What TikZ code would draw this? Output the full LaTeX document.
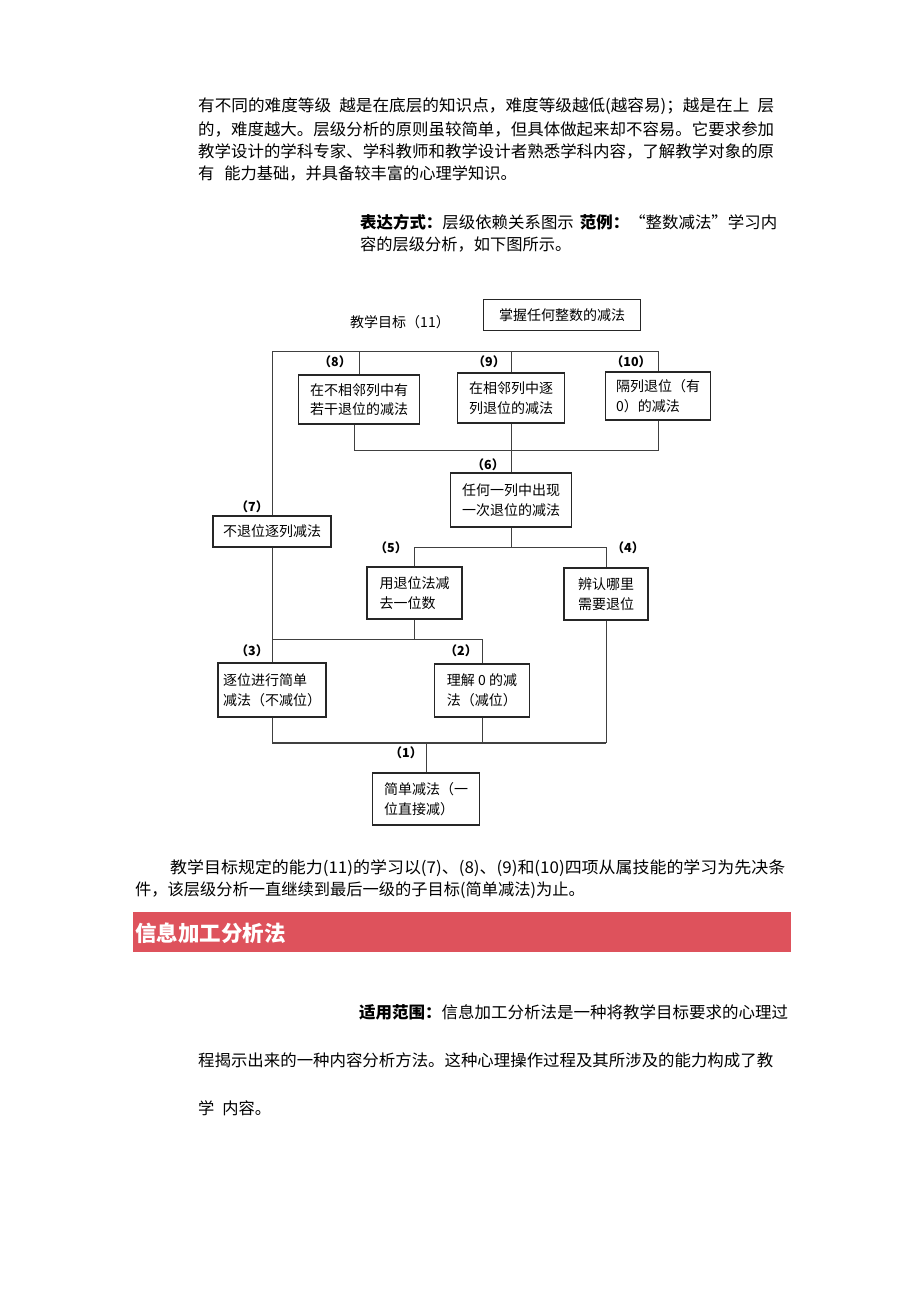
\documentclass[tikz,border=0pt]{standalone}
\usepackage{fontspec}
\usepackage{graphicx}
\setmainfont{Noto Sans CJK SC}
\usetikzlibrary{positioning}
\definecolor{bannerred}{RGB}{222,82,92}
\newcommand{\bodyfont}{\fontsize{16.25}{22}\selectfont}
\newcommand{\boxfont}{\fontsize{14}{19.5}\selectfont}
\newcommand{\numfont}{\fontsize{12.5}{12.5}\selectfont\bfseries}
\newcommand{\bannerfont}{\fontsize{21.5}{24}\selectfont\bfseries}
\newcommand{\jline}[2]{\resizebox{#1}{\height}{#2}}
\tikzset{
  every picture/.style = {
    x = 1pt,
    y = -1pt,
  }
  ,
  task/.style = {
    rectangle,
    draw = black!85,
    line width = 1.3pt,
    inner sep = 0pt,
    align = left,
    font = \boxfont
  }
  , % numbers of the sub-goals
  num/.style = {
    font = \numfont,
    inner sep = 0pt
  }
  , % connecting lines
  wire/.style = {
    draw = black!75,
    line width = 0.8pt
  }
  , % lines of running text
  line-body/.style = {
    anchor = west,
    inner sep = 0pt,
    font = \bodyfont
  }
}
\begin{document}
\begin{tikzpicture}
\useasboundingbox (0,0) rectangle (920,1302);
% text above the chart
\node[line-body] (p1-1) at (198,106) {\jline{576pt}{有不同的难度等级\hspace{8pt}越是在底层的知识点，难度等级越低(越容易)；越是在上\hspace{8pt}层}};
\node[line-body] (p1-2) at (198,129) {\jline{576pt}{的，难度越大。层级分析的原则虽较简单，但具体做起来却不容易。它要求参加}};
\node[line-body] (p1-3) at (198,151) {\jline{576pt}{教学设计的学科专家、学科教师和教学设计者熟悉学科内容，了解教学对象的原}};
\node[line-body] (p1-4) at (198,173) {有\hspace{10pt}能力基础，并具备较丰富的心理学知识。};
\node[line-body] (p2-1) at (360,222) {\jline{417pt}{{\bfseries 表达方式：}层级依赖关系图示\hspace{6pt}{\bfseries 范例：}“整数减法”学习内}};
\node[line-body] (p2-2) at (360,244) {容的层级分析，如下图所示。};
% the chart
\node[font=\boxfont] (goal-label) at (400,322) {教学目标（11）};
\node[task, minimum width=157pt, minimum height=31pt] (goal) at (562,315) {掌握任何整数的减法};
\node[task, minimum width=121pt, minimum height=49pt] (b8) at (359,399.5) {在不相邻列中有\\若干退位的减法};
\node[task, minimum width=107pt, minimum height=50pt] (b9) at (511,398) {在相邻列中逐\\列退位的减法};
\node[task, minimum width=105pt, minimum height=48pt] (b10) at (658,396) {隔列退位（有\\0）的减法};
\node[task, minimum width=121pt, minimum height=54pt] (b6) at (511,500) {任何一列中出现\\一次退位的减法};
\node[task, minimum width=118pt, minimum height=31pt] (b7) at (272,531.5) {不退位逐列减法};
\node[task, minimum width=95pt, minimum height=52pt] (b5) at (414.5,593) {用退位法减\\去一位数};
\node[task, minimum width=84pt, minimum height=52pt] (b4) at (606,594) {辨认哪里\\需要退位};
\node[task, minimum width=108pt, minimum height=54pt] (b3) at (272,690) {逐位进行简单\\减法（不减位）};
\node[task, minimum width=95pt, minimum height=53pt] (b2) at (482,690.5) {理解 0 的减\\法（减位）};
\node[task, minimum width=107pt, minimum height=52pt] (b1) at (426,799) {简单减法（一\\位直接减）};
\node[num] (n8) at (335,362) {（8）};
\node[num] (n9) at (489,362) {（9）};
\node[num] (n10) at (631,362) {（10）};
\node[num] (n6) at (488,465) {（6）};
\node[num] (n7) at (252,507) {（7）};
\node[num] (n5) at (391,548) {（5）};
\node[num] (n4) at (628,548) {（4）};
\node[num] (n3) at (252,651) {（3）};
\node[num] (n2) at (461,651) {（2）};
\node[num] (n1) at (406,753) {（1）};
\coordinate (top-bus) at (0,351);
\coordinate (mid-bus) at (0,450);
\coordinate (fork6) at (0,547);
\coordinate (fork5) at (0,639);
\coordinate (base-bus) at (0,743);
\draw[wire] (b7.north) -- (b7.north |- top-bus) -- (b10.north |- top-bus) -- (b10.north);
\draw[wire] (b8.north |- top-bus) -- (b8.north);
\draw[wire] (b9.north |- top-bus) -- (b9.north);
\draw[wire] ([xshift=-5pt]b8.south) -- ([xshift=-5pt]b8.south |- mid-bus) -- (b10.south |- mid-bus) -- (b10.south);
\draw[wire] (b9.south) -- (b6.north);
\draw[wire] (b6.south) -- (b6.south |- fork6);
\draw[wire] (b5.north) -- (b5.north |- fork6) -- (b4.north |- fork6) -- (b4.north);
\draw[wire] (b7.south) -- (b3.north);
\draw[wire] (b5.south) -- (b5.south |- fork5);
\draw[wire] (b3.north |- fork5) -- (b2.north |- fork5) -- (b2.north);
\draw[wire] (b3.south) -- (b3.south |- base-bus);
\draw[wire] (b2.south) -- (b2.south |- base-bus);
\draw[wire] (b4.south) -- (b4.south |- base-bus);
\draw[wire, line width=1.8pt] (b3.south |- base-bus) -- (b4.south |- base-bus);
\draw[wire] (b1.north) -- (b1.north |- base-bus);
% text below the chart
\node[line-body] (p3-1) at (170,868) {\jline{615pt}{教学目标规定的能力(11)的学习以(7)、(8)、(9)和(10)四项从属技能的学习为先决条}};
\node[line-body] (p3-2) at (135,890) {件，该层级分析一直继续到最后一级的子目标(简单减法)为止。};
\fill[bannerred] (133,912) rectangle (791,952);
\node[line-body, font=\bannerfont, text=white] (banner-title) at (135,933) {信息加工分析法};
\node[line-body] (p4-1) at (359,1012) {\jline{429pt}{{\bfseries 适用范围：}信息加工分析法是一种将教学目标要求的心理过}};
\node[line-body] (p4-2) at (198,1060) {\jline{575pt}{程揭示出来的一种内容分析方法。这种心理操作过程及其所涉及的能力构成了教}};
\node[line-body] (p4-3) at (198,1108) {学\hspace{8pt}内容。};
\end{tikzpicture}
\end{document}
